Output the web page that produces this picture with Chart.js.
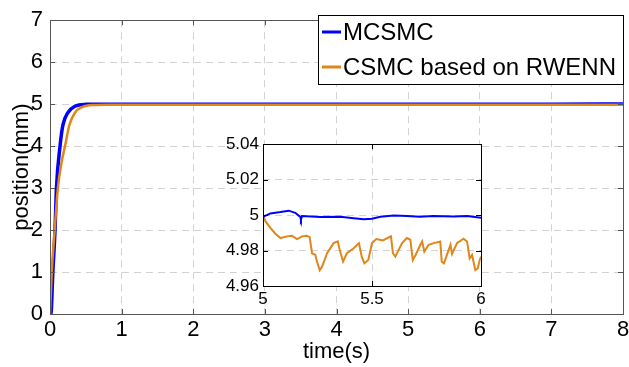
<!DOCTYPE html>
<html>
<head>
<meta charset="utf-8">
<script src="https://cdn.jsdelivr.net/npm/chart.js@4.4.0/dist/chart.umd.min.js"></script>
<style>
  html, body { margin: 0; padding: 0; background: #fff; }
  #wrap { position: relative; width: 629px; height: 367px; }
  #mainChart { position: absolute; left: 0; top: 0; }
  #insetChart { position: absolute; left: 215px; top: 130px; }
</style>
</head>
<body>
<div id="wrap">
  <canvas id="mainChart" width="629" height="367"></canvas>
  <canvas id="insetChart" width="280" height="185"></canvas>
</div>
<script>
// nombres de las series
const seriesNames = ['MCSMC', 'CSMC based on RWENN'];
const seriesColors = ['#0000ff', '#e0861a'];

// respuesta completa (0 - 8 s)
const mcsmcT = [0, 0.012, 0.04, 0.07, 0.09, 0.14, 0.18, 0.25, 0.35, 0.5, 0.7, 1, 2, 3, 4, 5, 6, 7, 8];
const mcsmcY = [0, 0, 1, 2, 3, 4, 4.5, 4.8, 4.95, 4.995, 5.0, 5.0, 5.0, 5.0, 5.0, 5.0, 5.0, 5.0, 5.005];
const csmcT = [0, 0.025, 0.065, 0.11, 0.16, 0.21, 0.27, 0.35, 0.45, 0.6, 0.8, 1, 2, 3, 4, 5, 6, 7, 8];
const csmcY = [0, 1, 2, 3, 3.6, 4, 4.5, 4.8, 4.93, 4.978, 4.985, 4.985, 4.985, 4.985, 4.985, 4.985, 4.985, 4.985, 4.985];

// detalle (5 - 6 s)
const zoomBlueT = [5.0, 5.034, 5.08, 5.118, 5.148, 5.171, 5.174, 5.179, 5.263, 5.355, 5.416, 5.462, 5.5, 5.538, 5.6, 5.66, 5.72, 5.78, 5.875, 5.936, 6.0];
const zoomBlueY = [4.99905, 5.00095, 5.0017, 5.0025, 5.0013, 4.999, 4.9975, 4.99943, 4.99886, 4.99905, 4.99829, 4.99771, 4.9979, 4.99905, 4.9998, 4.99943, 4.99905, 4.99943, 4.9992, 4.99943, 4.99848];
const zoomOrangeT = [5.0, 5.011, 5.034, 5.057, 5.08, 5.11, 5.133, 5.156, 5.179, 5.2, 5.214, 5.225, 5.24, 5.248, 5.26, 5.271, 5.294, 5.324, 5.343, 5.352, 5.367, 5.385, 5.416, 5.44, 5.453, 5.465, 5.483, 5.5, 5.52, 5.55, 5.587, 5.596, 5.607, 5.638, 5.66, 5.676, 5.687, 5.7, 5.722, 5.73, 5.74, 5.76, 5.783, 5.813, 5.82, 5.83, 5.86, 5.867, 5.89, 5.92, 5.936, 5.948, 5.959, 5.974, 5.985, 5.994, 6.0];
const zoomOrangeY = [5.0004, 4.99657, 4.99276, 4.98952, 4.98705, 4.988, 4.98838, 4.98648, 4.988, 4.98838, 4.9876, 4.97848, 4.9775, 4.97371, 4.96895, 4.9709, 4.97848, 4.98419, 4.98514, 4.9804, 4.97371, 4.97848, 4.98133, 4.98419, 4.97657, 4.97276, 4.97467, 4.98419, 4.98648, 4.98571, 4.988, 4.97848, 4.97657, 4.98419, 4.98705, 4.9861, 4.97467, 4.9775, 4.98324, 4.98514, 4.97943, 4.98324, 4.98419, 4.98514, 4.97371, 4.97276, 4.98324, 4.97809, 4.98419, 4.98667, 4.98514, 4.97562, 4.9775, 4.96895, 4.9699, 4.97467, 4.97657];

const FONT = '"Liberation Sans", Arial, Helvetica, sans-serif';

function toPoints(xs, ys) {
    return xs.map(function(x, i) { return { x: x, y: ys[i] }; });
}

// etiquetas sin ceros sobrantes (5, 4.98, 5.5)
function shortLabel(value) {
    return String(Number(value.toFixed(2)));
}

// marco y marcas hacia dentro (estilo MATLAB)
const framePlugin = {
    id: 'frame',
    beforeDraw(chart, args, opts) {
        const a = chart.chartArea;
        if (opts.fill) {
            chart.ctx.save();
            chart.ctx.fillStyle = opts.fill;
            chart.ctx.fillRect(a.left, a.top, a.width, a.height);
            chart.ctx.restore();
        }
    },
    afterDatasetsDraw(chart, args, opts) {
        const ctx = chart.ctx;
        const a = chart.chartArea;
        const sx = chart.scales.x, sy = chart.scales.y;
        const L = opts.tickLen;
        ctx.save();
        ctx.strokeStyle = opts.color;
        ctx.lineWidth = 1;
        ctx.beginPath();
        sx.ticks.forEach(function(t) {
            const px = Math.round(sx.getPixelForValue(t.value)) + 0.5;
            ctx.moveTo(px, a.bottom); ctx.lineTo(px, a.bottom - L);
            ctx.moveTo(px, a.top); ctx.lineTo(px, a.top + L);
        });
        sy.ticks.forEach(function(t) {
            const py = Math.round(sy.getPixelForValue(t.value)) + 0.5;
            ctx.moveTo(a.left, py); ctx.lineTo(a.left + L, py);
            ctx.moveTo(a.right, py); ctx.lineTo(a.right - L, py);
        });
        ctx.stroke();
        ctx.strokeRect(Math.round(a.left) + 0.5, Math.round(a.top) + 0.5,
                       Math.round(a.width), Math.round(a.height));
        ctx.restore();
    }
};

// leyenda dentro del área
const boxLegend = {
    id: 'boxLegend',
    afterDraw(chart, args, opts) {
        const ctx = chart.ctx;
        ctx.save();
        ctx.fillStyle = '#fff';
        ctx.fillRect(opts.x, opts.y, opts.w, opts.h);
        ctx.strokeStyle = '#000';
        ctx.lineWidth = 1;
        ctx.strokeRect(opts.x + 0.5, opts.y + 0.5, opts.w, opts.h);
        ctx.font = '24px ' + FONT;
        ctx.textBaseline = 'middle';
        ctx.fillStyle = '#000';
        chart.data.datasets.forEach(function(ds, i) {
            const yy = opts.y + opts.rowY[i];
            ctx.strokeStyle = ds.borderColor;
            ctx.lineWidth = 3;
            ctx.beginPath();
            ctx.moveTo(opts.x + 4, yy);
            ctx.lineTo(opts.x + 23, yy);
            ctx.stroke();
            ctx.fillText(ds.label, opts.x + 25, yy + 1);
        });
        ctx.restore();
    }
};

const gridColor = '#d2d2d2';

new Chart(document.getElementById('mainChart'), {
    type: 'line',
    data: {
        datasets: [
            {
                label: seriesNames[0],
                data: toPoints(mcsmcT, mcsmcY),
                borderColor: seriesColors[0],
                borderWidth: 3.5,
                pointRadius: 0,
                cubicInterpolationMode: 'monotone',
                order: 1
            },
            {
                label: seriesNames[1],
                data: toPoints(csmcT, csmcY),
                borderColor: seriesColors[1],
                borderWidth: 2.5,
                pointRadius: 0,
                cubicInterpolationMode: 'monotone',
                order: 0
            }
        ]
    },
    plugins: [framePlugin, boxLegend],
    options: {
        responsive: false,
        animation: false,
        layout: { padding: { left: 0, right: 6, top: 15, bottom: 0 } },
        plugins: {
            legend: { display: false },
            tooltip: { enabled: false },
            frame: { color: '#555', tickLen: 5 },
            boxLegend: { x: 318, y: 15, w: 305, h: 69, rowY: [17, 52] }
        },
        scales: {
            x: {
                type: 'linear',
                min: 0, max: 8,
                afterFit: function(s) { s.height = 53; s.paddingLeft = 0; s.paddingRight = 0; },
                ticks: { stepSize: 1, color: '#000', padding: 3, font: { family: FONT, size: 22 } },
                grid: { color: gridColor, drawTicks: false },
                border: { display: false, dash: [7, 5] },
                title: { display: true, text: 'time(s)', color: '#000', padding: { top: 0, bottom: 2 }, font: { family: FONT, size: 22 } }
            },
            y: {
                min: 0, max: 7,
                afterFit: function(s) { s.width = 50; },
                ticks: { stepSize: 1, color: '#000', padding: 7, font: { family: FONT, size: 22 } },
                grid: { color: gridColor, drawTicks: false },
                border: { display: false, dash: [7, 5] },
                title: { display: true, text: 'position(mm)', color: '#000', padding: { top: 9, bottom: 0 }, font: { family: FONT, size: 22 } }
            }
        }
    }
});

new Chart(document.getElementById('insetChart'), {
    type: 'line',
    data: {
        datasets: [
            {
                label: seriesNames[0],
                data: toPoints(zoomBlueT, zoomBlueY),
                borderColor: seriesColors[0],
                borderWidth: 2,
                pointRadius: 0,
                tension: 0
            },
            {
                label: seriesNames[1],
                data: toPoints(zoomOrangeT, zoomOrangeY),
                borderColor: seriesColors[1],
                borderWidth: 2,
                pointRadius: 0,
                tension: 0
            }
        ]
    },
    plugins: [framePlugin],
    options: {
        responsive: false,
        animation: false,
        layout: { padding: { left: 0, right: 14, top: 14, bottom: 0 } },
        plugins: {
            legend: { display: false },
            tooltip: { enabled: false },
            frame: { color: '#000', tickLen: 5, fill: '#fff' }
        },
        scales: {
            x: {
                type: 'linear',
                min: 5, max: 6,
                afterFit: function(s) { s.height = 29; s.paddingLeft = 0; s.paddingRight = 0; },
                ticks: { stepSize: 0.5, color: '#000', padding: 3, font: { family: FONT, size: 17 }, callback: shortLabel },
                grid: { color: gridColor, drawTicks: false },
                border: { display: false, dash: [7, 5] }
            },
            y: {
                min: 4.96, max: 5.04,
                afterFit: function(s) { s.width = 48; },
                ticks: { stepSize: 0.02, color: '#000', padding: 4, font: { family: FONT, size: 17 }, callback: shortLabel },
                grid: { color: gridColor, drawTicks: false },
                border: { display: false, dash: [7, 5] }
            }
        }
    }
});
</script>
</body>
</html>
